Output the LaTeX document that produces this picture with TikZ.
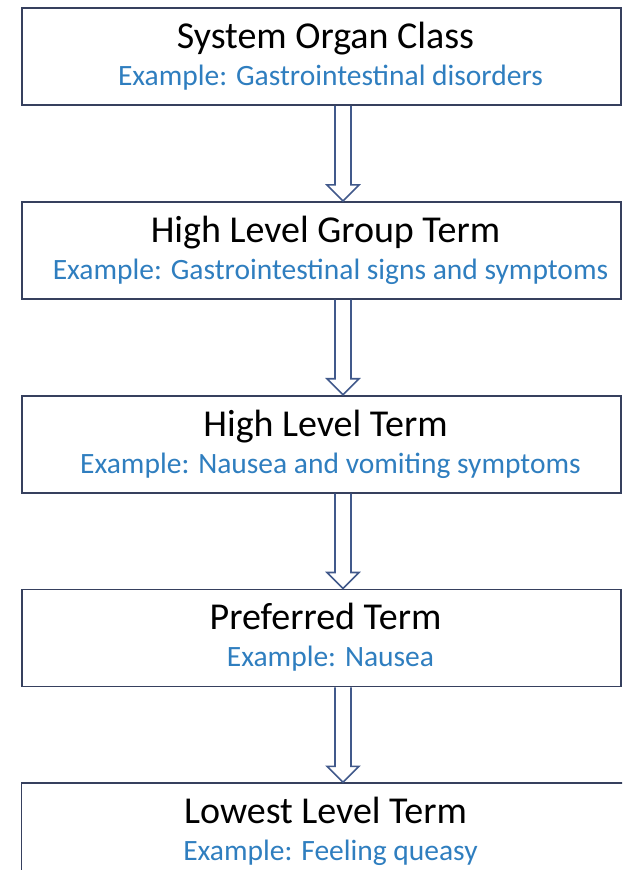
\documentclass[tikz,border=0pt]{standalone}
\usepackage{fontspec}
\setmainfont{Carlito}
\usetikzlibrary{positioning}

\definecolor{boxline}{HTML}{36405E}
\definecolor{arrowline}{HTML}{41598B}
\definecolor{exblue}{HTML}{2F7EBF}

\begin{document}
\begin{tikzpicture}[
  node distance=95pt,
  termbox/.style={draw=boxline, line width=1.8pt, minimum width=599pt, minimum height=97pt, inner sep=0pt},
  termtitle/.style={anchor=base, font=\fontsize{38}{42}\selectfont, text=black},
  termex/.style={anchor=base, font=\fontsize{29.5}{32}\selectfont, text=exblue},
  blockarrow/.style={draw=arrowline, line width=1.6pt, line join=miter}
]
\useasboundingbox (0,0) rectangle (622pt,-870pt);
\clip (0,0) rectangle (622pt,-870pt);

% Boxes
\node[termbox] (soc) at (321.5pt,-56.5pt) {};
\node[termbox, below=of soc] (hlgt) {};
\node[termbox, below=of hlgt] (hlt) {};
\node[termbox, below=of hlt] (pt) {};
\node[termbox, below=of pt, minimum width=640pt, xshift=20pt] (llt) {};

% Texts
\node[termtitle] (soc-t) at ([xshift=4pt,yshift=8pt]soc.center) {System Organ Class};
\node[termex] (soc-e) at ([xshift=9pt,yshift=-29pt]soc.center) {Example: Gastrointestinal disorders};

\node[termtitle] (hlgt-t) at ([xshift=4pt,yshift=8pt]hlgt.center) {High Level Group Term};
\node[termex] (hlgt-e) at ([xshift=9pt,yshift=-29pt]hlgt.center) {Example: Gastrointestinal signs and symptoms};

\node[termtitle] (hlt-t) at ([xshift=4pt,yshift=8pt]hlt.center) {High Level Term};
\node[termex] (hlt-e) at ([xshift=9pt,yshift=-29pt]hlt.center) {Example: Nausea and vomiting symptoms};

\node[termtitle] (pt-t) at ([xshift=4pt,yshift=8pt]pt.center) {Preferred Term};
\node[termex] (pt-e) at ([xshift=9pt,yshift=-29pt]pt.center) {Example: Nausea};

\node[termtitle] (llt-t) at ([xshift=-16pt,yshift=8pt]llt.center) {Lowest Level Term};
\node[termex] (llt-e) at ([xshift=-11pt,yshift=-29pt]llt.center) {Example: Feeling queasy};

% Hollow arrows between the levels
\foreach \a/\b in {soc/hlgt, hlgt/hlt, hlt/pt, pt/llt} {
  \path ([xshift=21.5pt]\a.south) coordinate (s) (s |- \b.north) coordinate (e);
  \draw[blockarrow] ([xshift=-8pt]s) -- ([xshift=-8pt,yshift=16pt]e) -- ([xshift=-16pt,yshift=16pt]e) -- (e)
    -- ([xshift=16pt,yshift=16pt]e) -- ([xshift=8pt,yshift=16pt]e) -- ([xshift=8pt]s);
}

\end{tikzpicture}
\end{document}
